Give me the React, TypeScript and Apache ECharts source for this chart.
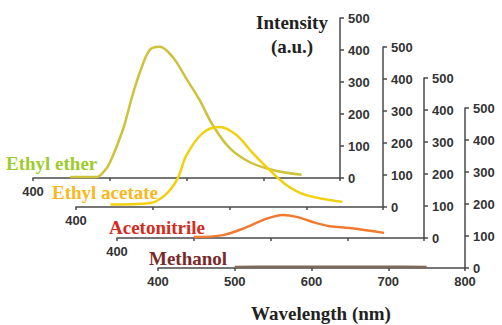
import React, { useEffect, useRef } from "react";
import * as echarts from "echarts";

const solvents = ["Ethyl ether", "Ethyl acetate", "Acetonitrile", "Methanol"];
const curveColors = ["#cdc23a", "#f2d00c", "#f07a30", "#7d6a5a"];
const labelColors = ["#9ccc2c", "#f8b820", "#d22d1e", "#7b2a2a"];

const etherWl = [448, 483, 492, 500, 517, 529, 539, 552, 565, 582, 601, 617, 634, 656, 682, 712, 750];
const etherI = [3, 3, 19, 47, 150, 253, 328, 400, 410, 378, 306, 244, 166, 94, 50, 25, 10];

const acetateWl = [445, 496, 516, 532, 544, 565, 587, 609, 630, 652, 674, 700, 747];
const acetateI = [8, 12, 37, 87, 162, 231, 250, 225, 169, 116, 69, 37, 16];

const acnWl = [500, 538, 569, 590, 616, 634, 655, 677, 703, 748];
const acnI = [3, 9, 34, 56, 72, 66, 50, 37, 31, 16];

const meohWl = [500, 550, 600, 650, 700, 750];
const meohI = [3, 4, 4, 4, 4, 3];

const xTicks = [400, 500, 600, 700, 800];
const yTicks = [0, 100, 200, 300, 400, 500];

const seriesWl = [etherWl, acetateWl, acnWl, meohWl];
const seriesI = [etherI, acetateI, acnI, meohI];

const gridLefts = [33, 76, 117, 158];
const gridTops = [18, 47, 78, 108];
const labelPos = [
  [6, 163],
  [52, 192],
  [109, 227],
  [149, 258],
];

export default function App() {
  const ref = useRef<HTMLDivElement>(null);
  useEffect(() => {
    if (!ref.current) return;
    const chart = echarts.init(ref.current, undefined, { renderer: "svg" });
    const axisLine = { show: true, lineStyle: { color: "#4a4a4a", width: 1.5 } };
    const grids = gridLefts.map((l, i) => ({
      left: l,
      top: gridTops[i],
      width: 307,
      height: 160,
      containLabel: false,
    }));
    const xAxes = gridLefts.map((_, i) => ({
      type: "value",
      gridIndex: i,
      min: xTicks[0],
      max: xTicks[xTicks.length - 1],
      interval: 100,
      axisLine,
      axisTick: { show: true, length: 3, lineStyle: { color: "#4a4a4a", width: 1.5 } },
      splitLine: { show: false },
      axisLabel: {
        show: true,
        margin: 7,
        color: "#333",
        fontFamily: "Liberation Sans",
        fontWeight: "bold",
        fontSize: 13,
        formatter: (v: number) => (i === 3 || v === 400 ? String(v) : ""),
      },
    }));
    const yAxes = gridLefts.map((_, i) => ({
      type: "value",
      gridIndex: i,
      position: "right",
      min: yTicks[0],
      max: yTicks[yTicks.length - 1],
      interval: 100,
      axisLine,
      axisTick: { show: true, length: 4, lineStyle: { color: "#4a4a4a", width: 1.5 } },
      splitLine: { show: false },
      axisLabel: {
        show: true,
        margin: 8,
        color: "#333",
        fontFamily: "Liberation Sans",
        fontWeight: "bold",
        fontSize: 13,
      },
    }));
    const series = solvents.map((name, i) => ({
      type: "line",
      name,
      xAxisIndex: i,
      yAxisIndex: i,
      data: seriesWl[i].map((w, k) => [w, seriesI[i][k]]),
      smooth: 0.35,
      showSymbol: false,
      lineStyle: { color: curveColors[i], width: 2.5 },
      z: 5,
    }));
    const serif = {
      fontFamily: "Liberation Serif",
      fontWeight: "bold" as const,
      fontSize: 19,
    };
    const graphic: any[] = solvents.map((name, i) => ({
      type: "text",
      x: labelPos[i][0],
      y: labelPos[i][1],
      z: 10,
      style: { text: name, fill: labelColors[i], ...serif, verticalAlign: "middle" },
    }));
    graphic.push(
      {
        type: "text",
        x: 292,
        y: 22,
        style: { text: "Intensity", fill: "#222", ...serif, align: "center", verticalAlign: "middle" },
      },
      {
        type: "text",
        x: 292,
        y: 46,
        style: { text: "(a.u.)", fill: "#222", ...serif, align: "center", verticalAlign: "middle" },
      },
      {
        type: "text",
        x: 321,
        y: 313,
        style: { text: "Wavelength (nm)", fill: "#222", ...serif, align: "center", verticalAlign: "middle" },
      }
    );
    chart.setOption({
      animation: false,
      backgroundColor: "#ffffff",
      grid: grids,
      xAxis: xAxes,
      yAxis: yAxes,
      series,
      graphic,
    });
    return () => chart.dispose();
  }, []);
  return (
    <div
      ref={ref}
      style={{ position: "fixed", left: 0, top: 0, width: 502, height: 325 }}
    />
  );
}
